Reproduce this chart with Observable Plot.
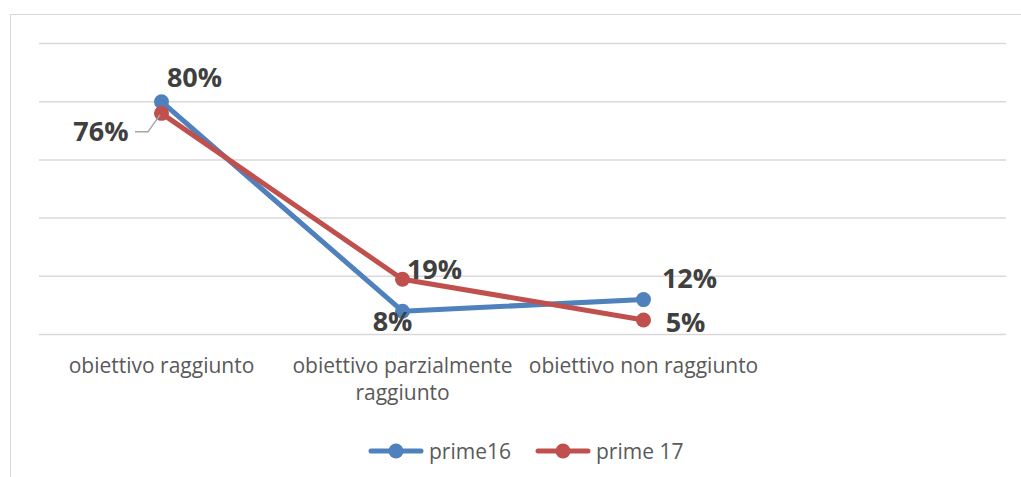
<!DOCTYPE html>
<html>
<head>
<meta charset="utf-8">
<script src="https://cdn.jsdelivr.net/npm/d3@7"></script>
<script src="https://cdn.jsdelivr.net/npm/@observablehq/plot@0.6"></script>
<style>
  body { margin: 0; background: #fff; font-family: "Open Sans", sans-serif; }
  #wrap { position: relative; width: 1021px; height: 477px; overflow: hidden; }
  #frame { position: absolute; left: 10px; top: 14px; width: 1030px; height: 500px; border: 1.5px solid #d9d9d9; pointer-events: none; }
  #legend { position: absolute; top: 437px; left: 368px; display: flex; align-items: center; gap: 24px; font-size: 21px; color: #595959; }
  .item { display: flex; align-items: center; gap: 5px; }
</style>
</head>
<body>
<div id="wrap">
  <div id="chart"></div>
  <div id="frame"></div>
  <div id="legend"></div>
</div>
<script>
const categories = ["obiettivo raggiunto", "obiettivo parzialmente raggiunto", "obiettivo non raggiunto", ""];
const tickLabels = ["obiettivo raggiunto", "obiettivo parzialmente\nraggiunto", "obiettivo non raggiunto", ""];
const seriesNames = ["prime16", "prime 17"];
const prime16 = [80, 8, 12];
const prime17 = [76, 19, 5];
const colors = ["#4f81bd", "#c0504d"];
const gridTicks = [0, 20, 40, 60, 80, 100];

const data = [];
[prime16, prime17].forEach((vals, s) => vals.forEach((v, i) => data.push({cat: categories[i], value: v, series: seriesNames[s], idx: i})));

const labelOffsets = {
  "prime16": [{dx: 33, dy: -23, anchor: "middle"}, {dx: -10, dy: 11, anchor: "middle"}, {dx: 46, dy: -20, anchor: "middle"}],
  "prime 17": [{dx: -33, dy: 19, anchor: "end"}, {dx: 32, dy: -9, anchor: "middle"}, {dx: 42, dy: 3, anchor: "middle"}]
};

function leader(index, scales, values, dimensions, context) {
  const x = scales.x(categories[0]), y = scales.y(prime17[0]);
  const p = d3.create("svg:path")
    .attr("d", `M${x - 1},${y + 2}L${x - 13},${y + 19}L${x - 26},${y + 19}`)
    .attr("fill", "none").attr("stroke", "#a6a6a6").attr("stroke-width", 1.5);
  return p.node();
}

const labelMarks = [];
seriesNames.forEach(s => {
  data.filter(d => d.series === s).forEach(d => {
    const o = labelOffsets[s][d.idx];
    labelMarks.push(Plot.text([d], {x: "cat", y: "value", text: d => d.value + "%", dx: o.dx, dy: o.dy, textAnchor: o.anchor,
      fontSize: 27, fontWeight: "bold", fill: "#404040"}));
  });
});

const chart = Plot.plot({
  width: 1021,
  height: 425,
  marginLeft: 39,
  marginRight: 15,
  marginTop: 43,
  marginBottom: 91,
  style: {fontFamily: "Open Sans", background: "transparent"},
  x: {type: "point", domain: categories, padding: 0.5},
  y: {domain: [0, 100], axis: null},
  color: {domain: seriesNames, range: colors},
  marks: [
    Plot.gridY(gridTicks, {stroke: "#d9d9d9", strokeOpacity: 1, strokeWidth: 1.5}),
    Plot.axisX({tickSize: 0, tickPadding: 19, fontSize: 21, lineHeight: 1.3, fill: "#595959", label: null,
      tickFormat: (d) => tickLabels[categories.indexOf(d)]}),
    Plot.line(data, {x: "cat", y: "value", z: "series", stroke: "series", strokeWidth: 5, strokeLinecap: "round", strokeLinejoin: "round"}),
    Plot.dot(data, {x: "cat", y: "value", fill: "series", r: 7.5}),
    leader,
    ...labelMarks
  ]
});
document.getElementById("chart").appendChild(chart);

const legend = document.getElementById("legend");
seriesNames.forEach((s, i) => {
  const item = document.createElement("div");
  item.className = "item";
  item.innerHTML = `<svg width="56" height="18"><line x1="3" x2="53" y1="9" y2="9" stroke="${colors[i]}" stroke-width="5" stroke-linecap="round"/><circle cx="28" cy="9" r="7.5" fill="${colors[i]}"/></svg><span>${s}</span>`;
  legend.appendChild(item);
});
</script>
</body>
</html>
